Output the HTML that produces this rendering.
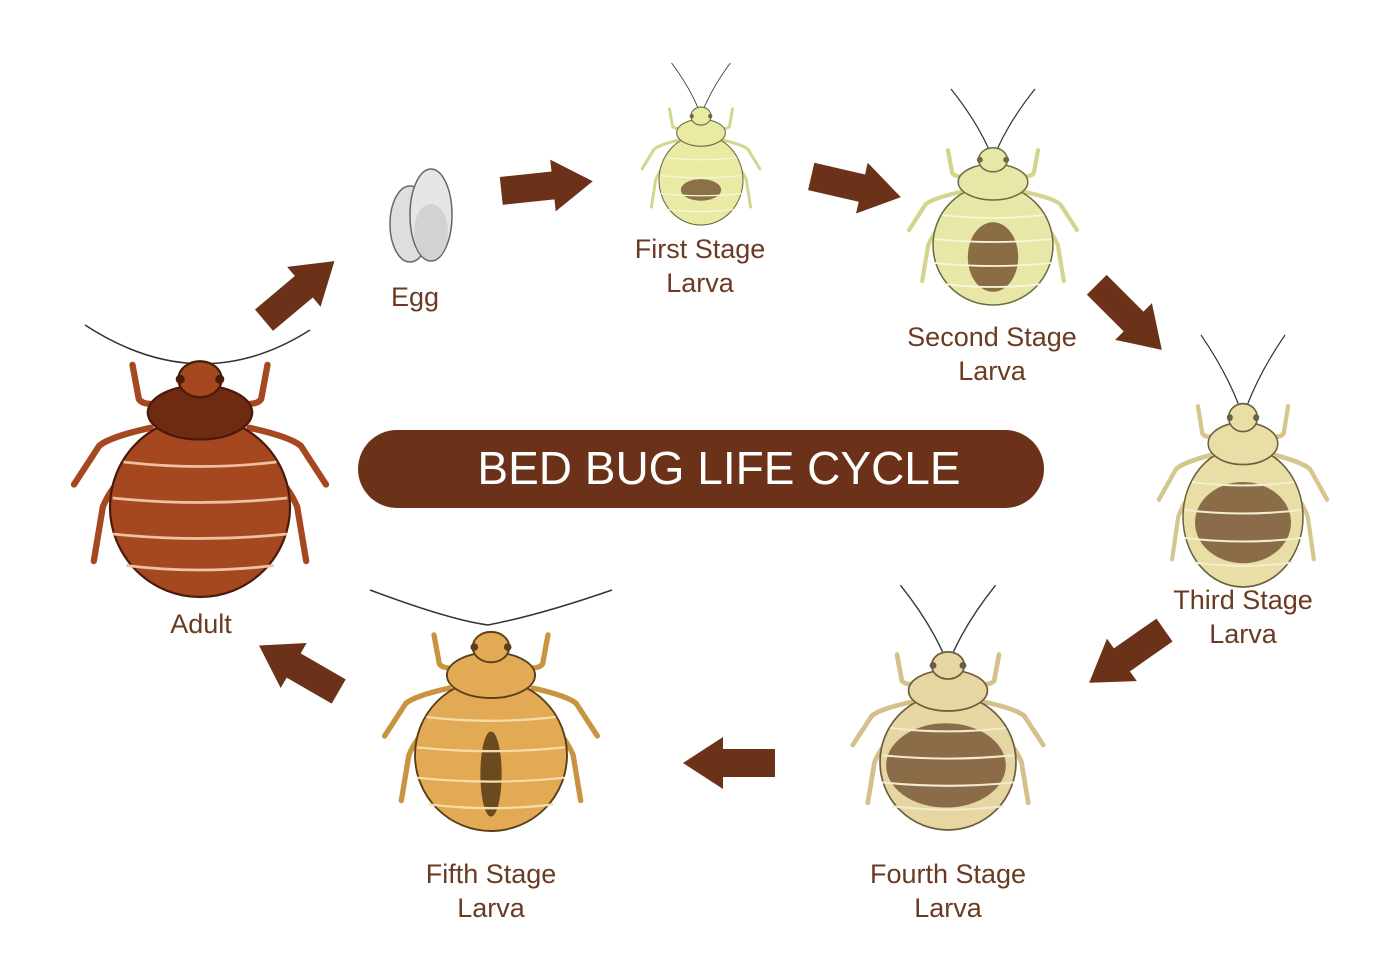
<!DOCTYPE html>
<html><head><meta charset="utf-8"><style>
html,body{margin:0;padding:0;background:#fff}
svg{display:block}
.lbl{font-family:"Liberation Sans",sans-serif;font-size:27px;fill:#6b3a22;text-anchor:middle}
</style></head><body>
<svg width="1400" height="980" viewBox="0 0 1400 980" xmlns="http://www.w3.org/2000/svg">
<defs>
<g id="bug">
 <g style="stroke:var(--leg);fill:none;stroke-width:7;stroke-linecap:round;stroke-linejoin:round">
  <path d="M-30,-118 Q-62,-110 -68,-120 L-75,-158"/><path d="M30,-118 Q62,-110 68,-120 L75,-158"/>
  <path d="M-55,-88 Q-100,-78 -112,-68 L-140,-25"/><path d="M55,-88 Q100,-78 112,-68 L140,-25"/>
  <path d="M-80,-40 Q-100,-20 -108,0 L-118,60"/><path d="M80,-40 Q100,-20 108,0 L118,60"/>
 </g>
 <circle r="100" style="fill:var(--body);stroke:var(--edge);stroke-width:2.5"/>
</g>
<g id="ant" style="stroke:#333;fill:none;stroke-width:2">
  <path d="M-8,-162 Q-30,-210 -70,-260"/><path d="M8,-162 Q30,-210 70,-260"/>
</g>
<g id="bugtop">
 <g style="stroke:var(--line);fill:none;stroke-width:3">
  <path d="M-85,-50 Q0,-40 85,-50"/><path d="M-97,-10 Q0,0 97,-10"/>
  <path d="M-97,30 Q0,40 97,30"/><path d="M-82,65 Q0,75 82,65"/>
 </g>
 <ellipse cx="0" cy="-105" rx="58" ry="30" style="fill:var(--thor);stroke:var(--edge);stroke-width:2.5"/>
 <ellipse cx="0" cy="-142" rx="24" ry="20" style="fill:var(--body);stroke:var(--edge);stroke-width:2.5"/>
 <circle cx="-22" cy="-142" r="5" style="fill:var(--edge)"/><circle cx="22" cy="-142" r="5" style="fill:var(--edge)"/>
</g>
<polygon id="arr" points="-47,-14 5,-14 5,-26 45,0 5,26 5,14 -47,14" fill="#6b3219"/>
</defs>

<!-- arrows -->
<use href="#arr" transform="translate(300,290) rotate(-40)"/>
<use href="#arr" transform="translate(548,186) rotate(-6)"/>
<use href="#arr" transform="translate(857,187) rotate(13)"/>
<use href="#arr" transform="translate(1130,318) rotate(45)"/>
<use href="#arr" transform="translate(1126,657) rotate(145)"/>
<use href="#arr" transform="translate(728,763) rotate(180)"/>
<use href="#arr" transform="translate(298,668) rotate(210)"/>

<!-- title -->
<rect x="358" y="430" width="686" height="78" rx="39" fill="#6b3219"/>
<text x="719" y="484" font-family="Liberation Sans, sans-serif" font-size="46" fill="#fff" text-anchor="middle">BED BUG LIFE CYCLE</text>

<!-- eggs -->
<ellipse cx="410" cy="224" rx="20" ry="38" fill="#dedede" stroke="#666" stroke-width="1.5"/>
<ellipse cx="431" cy="215" rx="21" ry="46" fill="#e6e6e6" stroke="#666" stroke-width="1.5"/>
<ellipse cx="431" cy="232" rx="17" ry="28" fill="#d2d2d2"/>

<!-- adult -->
<path d="M85,325 Q200,400 310,330" fill="none" stroke="#333" stroke-width="1.5"/>
<g transform="translate(200,507) scale(0.9)" style="--body:#a5471f;--leg:#a5471f;--edge:#4a1a0a;--line:#f0c0a0;--thor:#6e2a12">
 <use href="#bug"/><use href="#bugtop"/>
</g>

<!-- first -->
<g transform="translate(701,180) scale(0.42,0.45)" style="--body:#e9eaa4;--leg:#d2d68e;--edge:#6b6b40;--line:#f7f7d8;--thor:#e9eaa4">
 <use href="#bug"/><use href="#ant"/><ellipse cx="0" cy="22" rx="48" ry="24" fill="#8b7148"/><use href="#bugtop"/>
</g>
<!-- second -->
<g transform="translate(993,245) scale(0.6)" style="--body:#e7e8a8;--leg:#d3d48e;--edge:#6b6b40;--line:#f7f7d8;--thor:#e7e8a8">
 <use href="#bug"/><use href="#ant"/><ellipse cx="0" cy="20" rx="42" ry="58" fill="#8a6c45"/><use href="#bugtop"/>
</g>
<!-- third -->
<g transform="translate(1243,517) scale(0.6,0.7)" style="--body:#e8dea6;--leg:#d4c68c;--edge:#6b6040;--line:#f4eed0;--thor:#e8dea6">
 <use href="#bug"/><use href="#ant"/><ellipse cx="0" cy="8" rx="80" ry="58" fill="#8a6c48"/><use href="#bugtop"/>
</g>
<!-- fourth -->
<g transform="translate(948,762) scale(0.68)" style="--body:#e6d6a2;--leg:#d4c08a;--edge:#6b5c40;--line:#f4ead0;--thor:#e6d6a2">
 <use href="#bug"/><use href="#ant"/><ellipse cx="-3" cy="5" rx="88" ry="62" fill="#8a6c48"/><use href="#bugtop"/>
</g>
<!-- fifth -->
<path d="M370,590 Q450,620 488,625 Q540,615 612,590" fill="none" stroke="#333" stroke-width="1.5"/>
<g transform="translate(491,755) scale(0.76)" style="--body:#e2aa55;--leg:#c99440;--edge:#5a3e18;--line:#f5dca8;--thor:#e2aa55">
 <use href="#bug"/><ellipse cx="0" cy="25" rx="14" ry="56" fill="#6b4a20"/><use href="#bugtop"/>
</g>

<!-- labels -->
<text class="lbl" x="415" y="306">Egg</text>
<text class="lbl" x="700" y="258">First Stage</text><text class="lbl" x="700" y="292">Larva</text>
<text class="lbl" x="992" y="346">Second Stage</text><text class="lbl" x="992" y="380">Larva</text>
<text class="lbl" x="1243" y="609">Third Stage</text><text class="lbl" x="1243" y="643">Larva</text>
<text class="lbl" x="948" y="883">Fourth Stage</text><text class="lbl" x="948" y="917">Larva</text>
<text class="lbl" x="491" y="883">Fifth Stage</text><text class="lbl" x="491" y="917">Larva</text>
<text class="lbl" x="201" y="633">Adult</text>
</svg>
</body></html>
